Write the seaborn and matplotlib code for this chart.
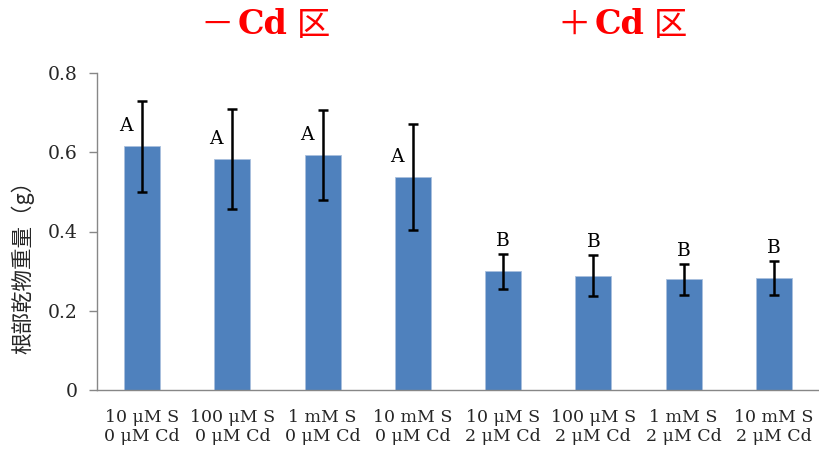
import numpy as np
import pandas as pd
import matplotlib
matplotlib.use("Agg")
import matplotlib.pyplot as plt
import matplotlib.transforms as mtransforms
import seaborn as sns

# -----------------------------------------------------------------------
# data
# -----------------------------------------------------------------------
s_levels = ["10 μM S", "100 μM S", "1 mM S", "10 mM S",
            "10 μM S", "100 μM S", "1 mM S", "10 mM S"]
cd_levels = ["0 μM Cd", "0 μM Cd", "0 μM Cd", "0 μM Cd",
             "2 μM Cd", "2 μM Cd", "2 μM Cd", "2 μM Cd"]
means = [0.615, 0.583, 0.593, 0.538, 0.300, 0.288, 0.280, 0.282]
errors = [0.115, 0.125, 0.113, 0.134, 0.044, 0.052, 0.039, 0.043]
letters = ["A", "A", "A", "A", "B", "B", "B", "B"]
group_signs = ["－", "＋"]
group_titles = ["Cd", "Cd"]
y_ticks = [0, 0.2, 0.4, 0.6, 0.8]
y_tick_labels = ["0", "0.2", "0.4", "0.6", "0.8"]

labels = [f"{s}\n{c}" for s, c in zip(s_levels, cd_levels)]
df = pd.DataFrame({"label": labels, "mean": means, "err": errors})

sns.set_theme(style="white")
plt.rcParams["font.family"] = ["DejaVu Serif", "Noto Sans CJK JP"]

BAR_COLOR = "#4F81BD"
AXIS_GRAY = "#878787"

fig = plt.figure(figsize=(8.2, 4.54), dpi=100)
ax = fig.add_axes([97 / 820, 64 / 454, 722 / 820, 317 / 454])

sns.barplot(data=df, x="label", y="mean", color=BAR_COLOR, width=0.4,
            saturation=1, errorbar=None, ax=ax, zorder=2)
for p in ax.patches:
    p.set_edgecolor("#A9C0DE")
    p.set_linewidth(0.6)

x = np.arange(len(df))
ax.errorbar(x, df["mean"], yerr=df["err"], fmt="none", ecolor="black",
            elinewidth=1.8, capsize=3.5, capthick=1.8, zorder=3)

# significance letters
for i, (m, e, let) in enumerate(zip(means, errors, letters)):
    if let == "A":
        ax.text(i - 0.18, m + 0.05, let, ha="center", va="center",
                fontsize=13.5, color="black")
    else:
        ax.text(i, m + e + 0.033, let, ha="center", va="center",
                fontsize=13.5, color="black")

ax.set_xlim(-0.5, len(df) - 0.5)
ax.set_ylim(0, 0.8)
ax.set_yticks(y_ticks)
ax.set_yticklabels(y_tick_labels, fontsize=13.5)
ax.set_xticks(x)
ax.set_xticklabels(labels, fontsize=12.5, linespacing=1.1)
ax.set_xticks(np.arange(-0.5, len(df)), minor=True)
ax.tick_params(axis="x", which="major", length=0, pad=14)
ax.tick_params(axis="x", which="minor", length=6, color=AXIS_GRAY, width=1)
ax.tick_params(axis="y", length=6, color=AXIS_GRAY, width=1, pad=8, left=True)
ax.set_xlabel("")
ax.set_ylabel("")

for side in ["top", "right"]:
    ax.spines[side].set_visible(False)
for side in ["left", "bottom"]:
    ax.spines[side].set_color(AXIS_GRAY)
    ax.spines[side].set_linewidth(1)

fig.text(23 / 820, (454 - 262) / 454, "根部乾物重量（g）", rotation=90,
         ha="center", va="center", fontsize=15.5,
         family=["Noto Sans CJK JP", "DejaVu Sans"])

# group headings above the two halves: sign, bold "Cd", and 区
trans = mtransforms.blended_transform_factory(ax.transData, fig.transFigure)
ty = (454 - 25) / 454
for cx, sign, title in zip([1.4, 5.35], group_signs, group_titles):
    ax.text(cx - 0.38, ty, sign, transform=trans, ha="right",
            va="center", fontsize=24, color="red",
            family=["Noto Sans CJK JP"])
    ax.text(cx - 0.34, ty, title, transform=trans, ha="left",
            va="center", fontsize=24, fontweight="bold", color="red",
            family=["DejaVu Serif"])
    ax.text(cx + 0.32, ty, "区", transform=trans, ha="left",
            va="center", fontsize=24, color="red",
            family=["Noto Sans CJK JP"])

fig.savefig("out.png", dpi=100)
